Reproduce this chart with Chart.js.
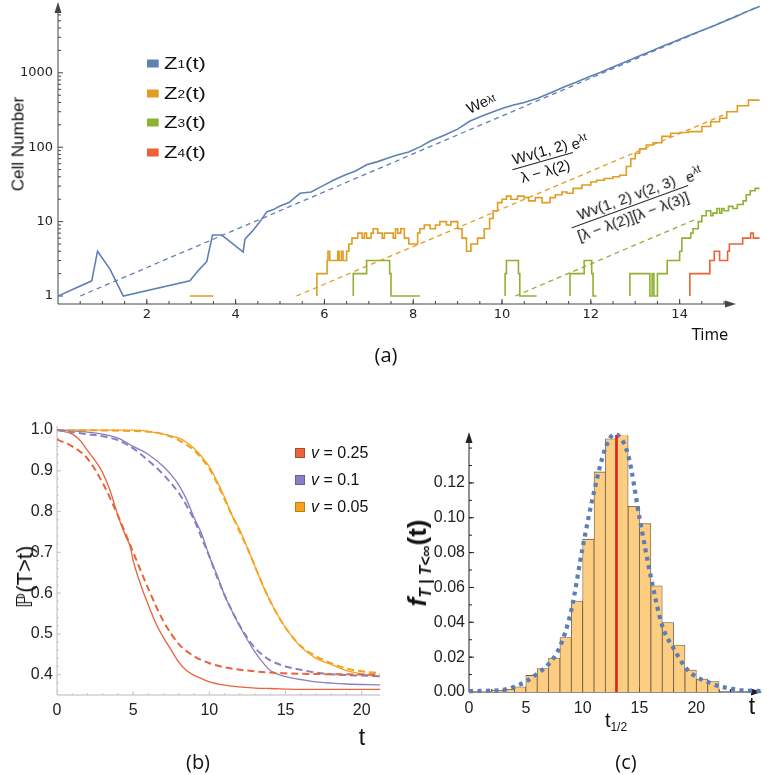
<!DOCTYPE html>
<html lang="en">
<head>
<meta charset="utf-8">
<title>Cell number growth, survival probability and extinction-time density</title>
<script src="https://cdn.jsdelivr.net/npm/chart.js@4.4.1/dist/chart.umd.min.js"></script>
<style>
html,body{margin:0;padding:0;background:#fff;}
#wrap{position:relative;width:769px;height:775px;overflow:hidden;background:#fff;}
#wrap canvas{position:absolute;}
.t{position:absolute;white-space:nowrap;font-family:'Liberation Sans','DejaVu Sans',Arial,sans-serif;color:#111;line-height:1;}
.c{transform:translate(-50%,-50%);}
.r90{transform:translate(-50%,-50%) rotate(-90deg);}
.t sub{font-size:0.6em;vertical-align:-0.35em;line-height:0;}
.leg{position:absolute;display:flex;align-items:center;white-space:nowrap;font-family:'Liberation Sans',Arial,sans-serif;color:#111;line-height:1;transform-origin:left center;}
.leg i{display:inline-block;flex:none;}
.leg sub{font-size:0.62em;vertical-align:-0.3em;line-height:0;}
.ann{position:absolute;white-space:nowrap;font-family:'Liberation Sans',Arial,sans-serif;font-size:15px;color:#111;line-height:1.05;display:flex;align-items:center;}
.frac{display:inline-flex;flex-direction:column;align-items:stretch;text-align:center;}
.frac .n{border-bottom:1.3px solid #222;padding:0 3px 1px;}
.frac .d{padding:2px 3px 0;}
.ex{margin-left:1px;transform:translateY(-8px);}
sup{font-size:0.7em;vertical-align:0.55em;line-height:0;}
</style>
</head>
<body>
<div id="wrap">
<canvas id="ca" width="769" height="345" style="left:0;top:0"></canvas>
<canvas id="cb" width="395" height="345" style="left:0;top:400px"></canvas>
<canvas id="cc" width="374" height="345" style="left:395px;top:400px"></canvas>

<!-- panel (a) texts -->
<div class="t r90" style="left:18px;top:144px;font-size:17px">Cell Number</div>
<div class="t c" style="left:710px;top:335px;font-size:15px;font-family:'DejaVu Sans'">Time</div>
<div class="t c" style="left:386px;top:355px;font-size:20px;font-family:'Open Sans'">(a)</div>
<div class="leg" style="left:147px;top:63px;font-size:17px;transform:translateY(-50%) scaleX(1.3)"><i style="width:9px;height:8px;background:#5E81B5;margin-right:4px"></i>Z<sub>1</sub>(t)</div>
<div class="leg" style="left:147px;top:93px;font-size:17px;transform:translateY(-50%) scaleX(1.3)"><i style="width:9px;height:8px;background:#E19C24;margin-right:4px"></i>Z<sub>2</sub>(t)</div>
<div class="leg" style="left:147px;top:122px;font-size:17px;transform:translateY(-50%) scaleX(1.3)"><i style="width:9px;height:8px;background:#8FB131;margin-right:4px"></i>Z<sub>3</sub>(t)</div>
<div class="leg" style="left:147px;top:152px;font-size:17px;transform:translateY(-50%) scaleX(1.3)"><i style="width:9px;height:8px;background:#EB6235;margin-right:4px"></i>Z<sub>4</sub>(t)</div>
<div class="ann" style="left:481px;top:103px;font-size:15px;transform:translate(-50%,-50%) rotate(-25deg)">We<sup>λt</sup></div>
<div class="ann" style="left:551px;top:159px;transform:translate(-50%,-50%) rotate(-16deg)"><span class="frac"><span class="n">Wv(1, 2)</span><span class="d">λ − λ(2)</span></span><span class="ex">e<sup>λt</sup></span></div>
<div class="ann" style="left:638px;top:204px;transform:translate(-50%,-50%) rotate(-20deg)"><span class="frac"><span class="n">Wv(1, 2) v(2, 3)</span><span class="d">[λ − λ(2)][λ − λ(3)]</span></span><span class="ex">e<sup>λt</sup></span></div>

<!-- panel (b) texts -->
<div class="t r90" style="left:25px;top:577px;font-size:22px">ℙ(T&gt;t)</div>
<div class="t c" style="left:362px;top:737px;font-size:23px">t</div>
<div class="t c" style="left:198px;top:762px;font-size:20px;font-family:'Open Sans'">(b)</div>
<div class="leg" style="left:295px;top:453px;font-size:16px;transform:translateY(-50%)"><i style="width:8px;height:8px;background:#E8643A;border:1px solid #b44a2a;margin-right:6px"></i><em>v</em>&nbsp;= 0.25</div>
<div class="leg" style="left:295px;top:480px;font-size:16px;transform:translateY(-50%)"><i style="width:8px;height:8px;background:#8C7DC0;border:1px solid #6a5c9a;margin-right:6px"></i><em>v</em>&nbsp;= 0.1</div>
<div class="leg" style="left:295px;top:507px;font-size:16px;transform:translateY(-50%)"><i style="width:8px;height:8px;background:#F6A21E;border:1px solid #c07c10;margin-right:6px"></i><em>v</em>&nbsp;= 0.05</div>

<!-- panel (c) texts -->
<div class="t r90" style="left:417px;top:563px;font-size:26px;font-weight:bold"><i>f</i><sub style="font-style:italic;font-weight:bold">T | T&lt;∞</sub>(t)</div>
<div class="t c" style="left:752px;top:706px;font-size:23px">t</div>
<div class="t c" style="left:616px;top:720px;font-size:20px">t<sub>1/2</sub></div>
<div class="t c" style="left:626px;top:762px;font-size:20px;font-family:'Open Sans'">(c)</div>
</div>

<script>
// ---------------- panel (a) data ----------------
const z1T = [0, 0.76, 0.89, 1.17, 1.47, 2.97, 3.16, 3.35, 3.48, 3.69, 4.17, 4.21, 4.40, 4.55, 4.70, 4.85, 5.00, 5.20, 5.45, 5.70, 5.95, 6.20, 6.45, 6.70, 6.95, 7.20, 7.45, 7.66, 7.90, 8.15, 8.40, 8.70, 9.00, 9.28, 9.55, 9.80, 10.05, 10.26, 10.50, 10.80, 11.10, 11.38, 11.65, 11.95, 12.20, 12.50, 12.80, 13.05, 13.35, 13.63, 13.90, 14.20, 14.50, 14.76, 15.00, 15.30, 15.55, 15.80];
const z1V = [1, 1.6, 4.0, 2.3, 1, 1.6, 2.2, 2.9, 6.6, 6.6, 3.9, 5.8, 7.7, 10, 13.5, 14.5, 16.2, 18, 24, 25, 30, 36, 42, 48, 58, 64, 72, 79, 86, 101, 122, 145, 175, 225, 262, 300, 340, 370, 400, 455, 540, 640, 740, 880, 1000, 1200, 1420, 1640, 1950, 2300, 2650, 3150, 3700, 4250, 4900, 5800, 6800, 7800];

const z2T = [2.97, 3.50, 3.51, 5.83, 6.06, 6.08, 6.12, 6.30, 6.33, 6.38, 6.42, 6.50, 6.55, 6.62, 6.75, 6.85, 6.90, 6.95, 7.05, 7.10, 7.20, 7.30, 7.35, 7.55, 7.60, 7.65, 7.72, 7.80, 7.90, 8.00, 8.10, 8.15, 8.25, 8.38, 8.50, 8.60, 8.75, 8.85, 9.00, 9.10, 9.20, 9.30, 9.45, 9.60, 9.72, 9.80, 9.90, 10.00, 10.10, 10.20, 10.35, 10.50, 10.60, 10.75, 10.90, 11.08, 11.20, 11.35, 11.46, 11.60, 11.80, 12.00, 12.13, 12.30, 12.50, 12.65, 12.80, 12.90, 13.00, 13.10, 13.25, 13.40, 13.60, 13.80, 14.00, 14.20, 14.50, 14.70, 14.90, 15.06, 15.30, 15.55, 15.80];
const z2V = [1, 1, null, 1, 2, 3, 4, 3, 4, 3, 4, 3, 4, 5, 6, 7, 6, 7, 6, 7, 8, 7, 6, 7, 6, 8, 7, 8, 6, 5, 5, 7, 8, 9, 8, 9, 10, 9, 10, 8, 6, 4, 5, 6, 8, 11, 14, 18, 20, 22, 20, 22, 21, 19, 21, 18, 21, 23, 25, 24, 28, 31, 34, 36, 38, 40, 42, 55, 70, 83, 95, 107, 115, 140, 154, 158, 162, 190, 220, 245, 300, 360, 430];

const z3T = [6.65, 6.95, 7.47, 7.50, 7.53, 8.15, 8.16, 10.07, 10.10, 10.37, 10.40, 10.48, 10.78, 10.79, 11.53, 11.85, 12.02, 12.05, 12.10, 12.13, 12.14, 12.88, 13.33, 13.38, 13.42, 13.50, 13.72, 14.00, 14.05, 14.12, 14.25, 14.30, 14.42, 14.50, 14.60, 14.70, 14.75, 14.84, 14.90, 14.95, 15.00, 15.10, 15.20, 15.30, 15.43, 15.50, 15.59, 15.70, 15.80];
const z3V = [1, 2, 3, 2, 1, 1, null, 1, 2, 3, 2, 1, 1, null, 1, 2, 3, 2, 1, 1, null, 1, 2, 1, 2, 1, 2, 3, 4, 6, 6, 7, 8, 10, 12, 14, 12, 13, 15, 13, 15, 14, 16, 15, 17, 19, 23, 26, 28];

const z4T = [14.23, 14.68, 14.78, 14.90, 15.08, 15.12, 15.42, 15.60, 15.66, 15.74, 15.80];
const z4V = [1, 2, 3, 4, 3, 4, 5, 6, 7, 6, 6];

// asymptotic (dashed) curves: start and end points
const fit1T = [0.5, 15.8];   const fit1V = [1, 7900];
const fit2T = [5.37, 14.98]; const fit2V = [1, 270];
const fit3T = [10.3, 14.4];  const fit3V = [1, 11];

const aXLabels = [2, 4, 6, 8, 10, 12, 14];
const aYLabels = [1, 10, 100, 1000];

// ---------------- panel (b) data ----------------
const redT   = [0, 1, 1.5, 2, 2.5, 3, 3.5, 4, 4.5, 4.8, 5, 5.5, 6, 6.5, 7, 7.5, 8, 8.5, 9, 9.5, 10, 11, 12, 13, 14, 16, 21.2];
const redV   = [1.0, 0.99, 0.975, 0.95, 0.925, 0.895, 0.85, 0.79, 0.74, 0.715, 0.68, 0.62, 0.57, 0.525, 0.49, 0.46, 0.43, 0.41, 0.398, 0.39, 0.382, 0.374, 0.37, 0.367, 0.366, 0.364, 0.364];
const redDT  = [0, 1, 2, 3, 4, 5, 6, 7, 8, 9, 10, 11, 12, 13, 14, 16, 18, 21.2];
const redDV  = [0.977, 0.96, 0.93, 0.87, 0.79, 0.70, 0.61, 0.53, 0.475, 0.445, 0.428, 0.418, 0.412, 0.408, 0.405, 0.402, 0.401, 0.40];
const purT   = [0, 2, 3, 4, 5, 6, 7, 7.5, 8, 8.5, 9, 9.5, 10, 10.5, 11, 11.5, 12, 12.5, 13, 13.5, 14, 15, 16, 17, 18, 19, 21.2];
const purV   = [1.0, 0.995, 0.99, 0.98, 0.96, 0.94, 0.91, 0.89, 0.865, 0.83, 0.785, 0.745, 0.69, 0.645, 0.595, 0.555, 0.518, 0.485, 0.455, 0.43, 0.41, 0.395, 0.388, 0.382, 0.379, 0.377, 0.375];
const purDT  = [0, 2, 3, 4, 5, 6, 7, 8, 8.5, 9, 9.5, 10, 10.5, 11, 11.5, 12, 12.5, 13, 13.5, 14, 15, 16, 17, 18, 19, 21.2];
const purDV  = [1.0, 0.99, 0.985, 0.975, 0.955, 0.925, 0.89, 0.845, 0.815, 0.78, 0.735, 0.69, 0.64, 0.595, 0.555, 0.52, 0.49, 0.465, 0.448, 0.435, 0.42, 0.412, 0.405, 0.401, 0.399, 0.396];
const orgT   = [0, 5, 6, 7, 8, 8.5, 9, 9.5, 10, 10.5, 11, 11.5, 12, 12.5, 13, 13.5, 14, 14.5, 15, 15.5, 16, 17, 18, 19, 20, 21.2];
const orgV   = [1.0, 1.0, 0.997, 0.99, 0.98, 0.97, 0.955, 0.935, 0.91, 0.875, 0.835, 0.79, 0.755, 0.71, 0.665, 0.62, 0.58, 0.545, 0.515, 0.49, 0.468, 0.44, 0.425, 0.41, 0.402, 0.395];
const orgDT  = [0, 6, 7, 8, 9, 10, 10.5, 11, 11.5, 12, 12.5, 13, 13.5, 14, 14.5, 15, 15.5, 16, 17, 18, 19, 20, 21.2];
const orgDV  = [1.0, 0.996, 0.99, 0.975, 0.95, 0.905, 0.87, 0.83, 0.79, 0.75, 0.71, 0.665, 0.62, 0.58, 0.545, 0.515, 0.49, 0.47, 0.445, 0.428, 0.415, 0.408, 0.404];
const bXLabels = [0, 5, 10, 15, 20];
const bYLabels = [0.4, 0.5, 0.6, 0.7, 0.8, 0.9, 1.0];

// ---------------- panel (c) data ----------------
const histBinStart = [0, 1, 2, 3, 4, 5, 6, 7, 8, 9, 10, 11, 12, 13, 14, 15, 16, 17, 18, 19, 20, 21];
const histVals = [0.0003, 0.0005, 0.001, 0.0015, 0.003, 0.0095, 0.0135, 0.0195, 0.0313, 0.0522, 0.0877, 0.1263, 0.1453, 0.148, 0.1066, 0.0966, 0.0609, 0.0399, 0.027, 0.0126, 0.0074, 0.006];
const densT = [0, 1, 2, 3, 4, 5, 6, 7, 8, 9, 10, 11, 12, 12.8, 14, 15, 16, 17, 18, 19, 20, 21, 22, 23, 24, 25.8];
const densV = [0.0005, 0.0006, 0.0008, 0.0012, 0.003, 0.006, 0.0105, 0.016, 0.026, 0.047, 0.083, 0.115, 0.14, 0.148, 0.136, 0.1, 0.066, 0.038, 0.025, 0.0144, 0.0086, 0.0058, 0.0033, 0.002, 0.001, 0.0005];
const tHalf = 12.97;
const cXLabels = [0, 5, 10, 15, 20];
const cYLabels = [0, 0.02, 0.04, 0.06, 0.08, 0.10, 0.12];

// ---------------- helpers ----------------
const pts = (T, V) => T.map((t, i) => ({x: t, y: V[i]}));
function zeroPad(s){ s.paddingTop = 0; s.paddingBottom = 0; s.paddingLeft = 0; s.paddingRight = 0; }
function range(a, b, step){ const r = []; for (let v = a; v <= b + 1e-9; v += step) r.push(+v.toFixed(4)); return r; }

function axesPlugin(o){
  return {
    id: 'axes_' + o.name,
    beforeDatasetsDraw(chart){
      const ctx = chart.ctx, ca = chart.chartArea, sx = chart.scales.x, sy = chart.scales.y;
      const x0 = ca.left, y0 = ca.bottom;
      const xe = o.xEnd != null ? o.xEnd : ca.right;
      const ye = o.yEnd != null ? o.yEnd : ca.top;
      ctx.save();
      ctx.strokeStyle = o.color; ctx.fillStyle = o.color; ctx.lineWidth = o.lw;
      ctx.beginPath();
      ctx.moveTo(x0, y0); ctx.lineTo(xe - (o.arrows ? 6 : 0), y0);
      ctx.moveTo(x0, y0); ctx.lineTo(x0, ye + (o.arrows ? 6 : 0));
      ctx.stroke();
      ctx.lineWidth = o.tlw || o.lw;
      ctx.strokeStyle = o.tickColor || o.color;
      ctx.beginPath();
      const xt = (vals, len) => vals.forEach(v => { const p = sx.getPixelForValue(v); if (p > x0 + 0.5 && p < xe - 8) { ctx.moveTo(p, y0); ctx.lineTo(p, y0 - len); } });
      const yt = (vals, len) => vals.forEach(v => { const p = sy.getPixelForValue(v); if (p < y0 - 0.5 && p > ye + 8) { ctx.moveTo(x0, p); ctx.lineTo(x0 + len, p); } });
      xt(o.xMajor, o.majLen); xt(o.xMinor, o.minLen);
      yt(o.yMajor, o.majLen); yt(o.yMinor, o.minLen);
      ctx.stroke();
      if (o.arrows){
        ctx.fillStyle = o.color;
        ctx.beginPath(); ctx.moveTo(xe, y0); ctx.lineTo(xe - 11, y0 - 3.5); ctx.lineTo(xe - 11, y0 + 3.5); ctx.closePath(); ctx.fill();
        ctx.beginPath(); ctx.moveTo(x0, ye); ctx.lineTo(x0 - 3.5, ye + 11); ctx.lineTo(x0 + 3.5, ye + 11); ctx.closePath(); ctx.fill();
      }
      ctx.restore();
    }
  };
}

const baseOpts = () => ({
  responsive: false, animation: false, events: [],
  plugins: {legend: {display: false}, tooltip: {enabled: false}}
});

// ---------------- chart (a) ----------------
const BLUE = '#5E81B5', ORANGE = '#E19C24', GREEN = '#8FB131', RED = '#EB6235';
const lineA = (T, V, color, extra) => Object.assign({data: pts(T, V), borderColor: color, backgroundColor: color, borderWidth: 1.6, pointRadius: 0, fill: false, tension: 0, spanGaps: false}, extra || {});
const decadeMinor = [];
[1, 10, 100, 1000].forEach(d => { for (let k = 2; k <= 9; k++) decadeMinor.push(k * d); });

const optA = baseOpts();
optA.layout = {padding: {left: 0, right: 5, top: 4, bottom: 0}};
optA.scales = {
  x: {type: 'linear', min: 0, max: 15.9,
      grid: {display: false, drawTicks: false, tickLength: 0}, border: {display: false},
      ticks: {autoSkip: false, maxRotation: 0, padding: 3, color: '#222', font: {family: 'DejaVu Sans', size: 13}},
      afterBuildTicks: s => { s.ticks = aXLabels.map(v => ({value: v})); },
      afterFit: s => { s.height = 41; zeroPad(s); }},
  y: {type: 'logarithmic', min: 0.781, max: 8410,
      grid: {display: false, drawTicks: false, tickLength: 0}, border: {display: false},
      ticks: {autoSkip: false, padding: 5, color: '#222', font: {family: 'DejaVu Sans', size: 13}, callback: v => String(v)},
      afterBuildTicks: s => { s.ticks = aYLabels.map(v => ({value: v})); },
      afterFit: s => { s.width = 58; zeroPad(s); }}
};
new Chart(document.getElementById('ca'), {
  type: 'line',
  data: {datasets: [
    lineA(fit1T, fit1V, BLUE, {borderDash: [5, 4], borderWidth: 1.3}),
    lineA(fit2T, fit2V, ORANGE, {borderDash: [5, 4], borderWidth: 1.3}),
    lineA(fit3T, fit3V, GREEN, {borderDash: [5, 4], borderWidth: 1.3}),
    lineA(z4T, z4V, RED, {stepped: 'after'}),
    lineA(z3T, z3V, GREEN, {stepped: 'after'}),
    lineA(z2T, z2V, ORANGE, {stepped: 'after'}),
    lineA(z1T, z1V, BLUE)
  ]},
  options: optA,
  plugins: [axesPlugin({name: 'a', color: '#444', lw: 1, xEnd: 736, yEnd: 2, arrows: true, majLen: 5, minLen: 3,
    xMajor: aXLabels, xMinor: range(0.5, 15, 0.5), yMajor: aYLabels, yMinor: decadeMinor})]
});

// ---------------- chart (b) ----------------
const RB = '#E8643A', PB = '#8C7DC0', OB = '#F6A21E';
const lineB = (T, V, color, dashed) => ({data: pts(T, V), borderColor: color, backgroundColor: color,
  borderWidth: dashed ? 2 : 1.3, borderDash: dashed ? [7, 4] : [], pointRadius: 0, fill: false, cubicInterpolationMode: 'monotone'});
const optB = baseOpts();
const narrow = "'Liberation Sans Narrow','Liberation Sans',Arial,sans-serif";
optB.layout = {padding: {left: 0, right: 15, top: 26, bottom: 0}};
optB.scales = {
  x: {type: 'linear', min: 0, max: 21.2,
      grid: {display: false, drawTicks: false, tickLength: 0}, border: {display: false},
      ticks: {autoSkip: false, maxRotation: 0, padding: 6, color: '#222', font: {family: narrow, size: 16}},
      afterBuildTicks: s => { s.ticks = bXLabels.map(v => ({value: v})); },
      afterFit: s => { s.height = 50; zeroPad(s); }},
  y: {type: 'linear', min: 0.35, max: 1.01,
      grid: {display: false, drawTicks: false, tickLength: 0}, border: {display: false},
      ticks: {autoSkip: false, padding: 4, color: '#222', font: {family: narrow, size: 16}, callback: v => v.toFixed(1)},
      afterBuildTicks: s => { s.ticks = bYLabels.map(v => ({value: v})); },
      afterFit: s => { s.width = 57; zeroPad(s); }}
};
new Chart(document.getElementById('cb'), {
  type: 'line',
  data: {datasets: [
    lineB(redDT, redDV, RB, true),
    lineB(purDT, purDV, PB, true),
    lineB(orgDT, orgDV, OB, true),
    lineB(redT, redV, RB, false),
    lineB(purT, purV, PB, false),
    lineB(orgT, orgV, OB, false)
  ]},
  options: optB,
  plugins: [axesPlugin({name: 'b', color: '#b8b8b8', lw: 1, tickColor: '#c8c8c8', arrows: false, majLen: 4, minLen: 2,
    xMajor: bXLabels, xMinor: range(1, 21, 1), yMajor: bYLabels, yMinor: range(0.36, 1.0, 0.02)})]
});

// ---------------- chart (c) ----------------
const optC = baseOpts();
optC.layout = {padding: {left: 0, right: 9, top: 35, bottom: 0}};
optC.scales = {
  x: {type: 'linear', min: 0, max: 25.6, offset: false,
      grid: {display: false, drawTicks: false, tickLength: 0, offset: false}, border: {display: false},
      ticks: {autoSkip: false, maxRotation: 0, padding: 7, color: '#222', font: {family: narrow, size: 16}},
      afterBuildTicks: s => { s.ticks = cXLabels.map(v => ({value: v})); },
      afterFit: s => { s.height = 53; zeroPad(s); }},
  y: {type: 'linear', min: 0, max: 0.1475,
      grid: {display: false, drawTicks: false, tickLength: 0}, border: {display: false},
      ticks: {autoSkip: false, padding: 4, color: '#222', font: {family: narrow, size: 16}, callback: v => v.toFixed(2)},
      afterBuildTicks: s => { s.ticks = cYLabels.map(v => ({value: v})); },
      afterFit: s => { s.width = 74; zeroPad(s); }}
};
new Chart(document.getElementById('cc'), {
  type: 'bar',
  data: {datasets: [
    {type: 'line', order: 0, data: [{x: tHalf, y: 0}, {x: tHalf, y: 0.1475}], borderColor: '#E2231A', borderWidth: 2.6, pointRadius: 0, clip: false},
    {type: 'line', order: 1, data: pts(densT, densV), borderColor: '#5B7FB4', borderWidth: 4.2, borderDash: [4, 4.5], pointRadius: 0, cubicInterpolationMode: 'monotone', clip: false},
    {type: 'bar', order: 2, data: histBinStart.map((b, i) => ({x: b + 0.5, y: histVals[i]})), backgroundColor: '#FDCD82',
     borderColor: '#6b5a45', borderWidth: 0.8, borderSkipped: 'bottom', barPercentage: 1, categoryPercentage: 1}
  ]},
  options: optC,
  plugins: [axesPlugin({name: 'c', color: '#222', lw: 1, xEnd: 367, yEnd: 32, arrows: true, majLen: 5, minLen: 3,
    xMajor: cXLabels, xMinor: range(1, 24, 1), yMajor: cYLabels, yMinor: range(0.01, 0.14, 0.01)})]
});
</script>
</body>
</html>
